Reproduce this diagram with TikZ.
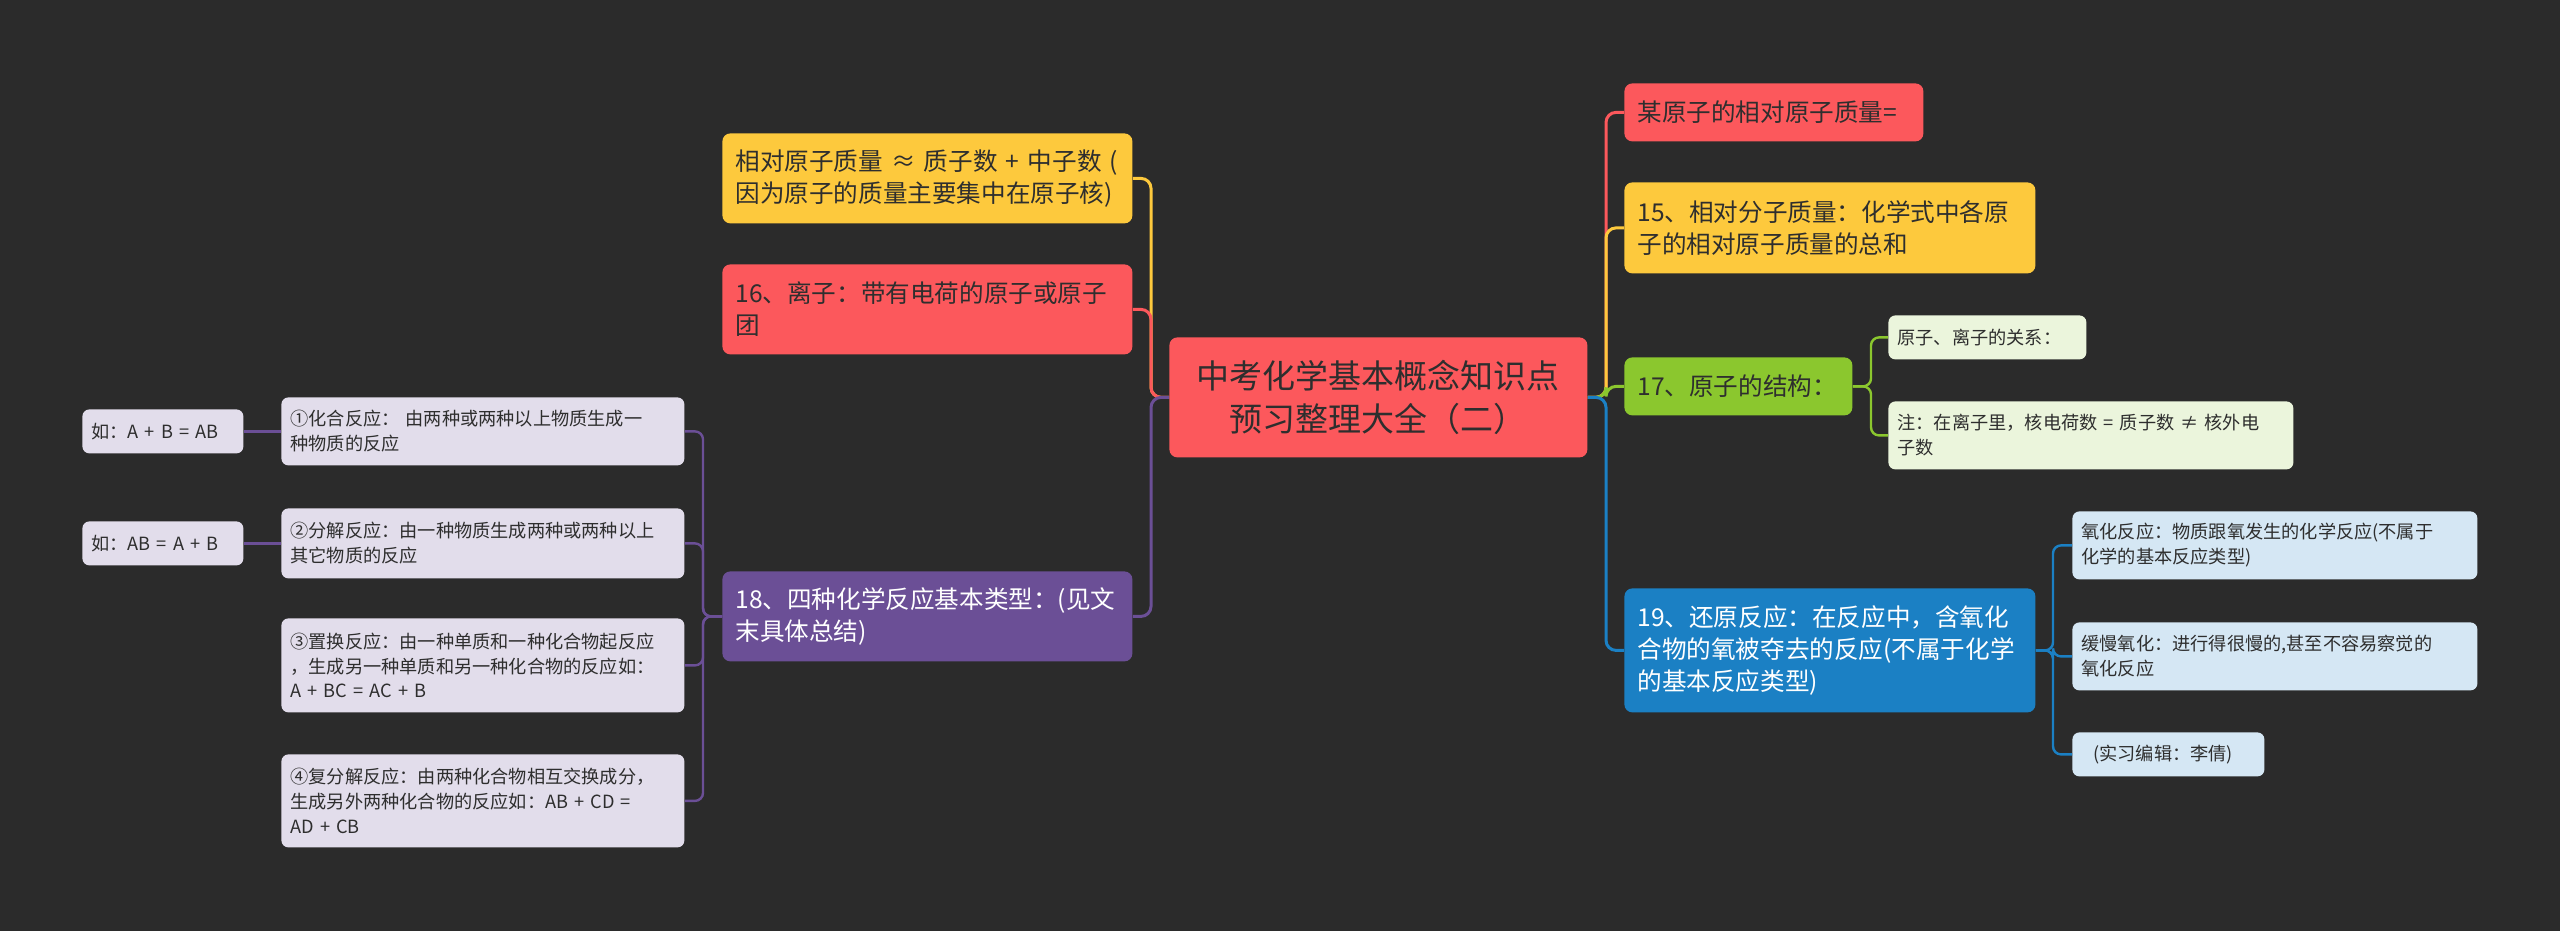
\documentclass[tikz,border=0pt]{standalone}
\usepackage{fontspec}
\setmainfont{Noto Sans CJK SC}
\definecolor{bg}{HTML}{2B2B2B}
\definecolor{cred}{HTML}{FC585C}
\definecolor{cyel}{HTML}{FDC93D}
\definecolor{cgrn}{HTML}{8BC72E}
\definecolor{cblu}{HTML}{1B80C4}
\definecolor{cpur}{HTML}{6B4F96}
\definecolor{lgrn}{HTML}{EBF5DC}
\definecolor{lblu}{HTML}{D5E7F4}
\definecolor{lpur}{HTML}{E2DDEB}
\definecolor{dtxt}{HTML}{2E2E2E}
\newcommand{\mmnode}[8]{%
 \pgfmathsetmacro\mmw{(#4-#2)*0.5}%
 \pgfmathsetmacro\mmh{(#5-#3)*0.5}%
 \pgfmathsetmacro\mmt{(#4-#2)*0.5-#7}%
 \pgfmathsetmacro\mmp{#7*0.5}%
 \node[#6, anchor=north west, minimum width=\mmw pt, minimum height=\mmh pt,
   inner xsep=\mmp pt, text width=\mmt pt] (#1) at (#2,#3) {#8};}
\tikzset{
 mainbox/.style={rounded corners=4pt, inner ysep=1pt, align=center, text=dtxt,
   font=\fontsize{16.5}{21.5}\selectfont},
 topicbox/.style={rounded corners=4pt, inner ysep=1pt, align=left,
   font=\fontsize{12.3}{16}\selectfont},
 leafbox/.style={rounded corners=3.5pt, inner ysep=1pt, align=left, text=dtxt,
   font=\fontsize{9.1}{12.4}\selectfont},
 cn/.style={line width=1.5pt, rounded corners=5pt},
 cnl/.style={line width=1.2pt, rounded corners=4pt},
}
\begin{document}
\begin{tikzpicture}[x=0.5pt,y=-0.5pt]
\fill[bg] (0,0) rectangle (2560,931);
\useasboundingbox (0,0) rectangle (2560,931);
% center
\mmnode{C}{1169}{337}{1587}{457}{mainbox, fill=cred}{10}{中考化学基本概念知识点\\预习整理大全（二）}
% left topics
\mmnode{L1}{722}{133}{1132}{223}{topicbox, fill=cyel, text=dtxt}{13}{\mbox{相对原子质量 ≈ 质子数 + 中子数 (}\\因为原子的质量主要集中在原子核)}
\mmnode{L2}{722}{264}{1132}{354}{topicbox, fill=cred, text=dtxt}{13}{16、离子：带有电荷的原子或原子\\团}
\mmnode{L3}{722}{571}{1132}{661}{topicbox, fill=cpur, text=white}{13}{18、四种化学反应基本类型：(见文\\末具体总结)}
% left leaves
\mmnode{LA}{281}{397}{684}{465}{leafbox, fill=lpur}{9}{\mbox{①化合反应： 由两种或两种以上物质生成一}\\种物质的反应}
\mmnode{LB}{281}{508}{684}{578}{leafbox, fill=lpur}{9}{②分解反应：由一种物质生成两种或两种以上\\其它物质的反应}
\mmnode{LC}{281}{618}{684}{712}{leafbox, fill=lpur}{9}{③置换反应：由一种单质和一种化合物起反应\\，生成另一种单质和另一种化合物的反应如：\\\mbox{A + BC = AC + B}}
\mmnode{LD}{281}{754}{684}{847}{leafbox, fill=lpur}{9}{④复分解反应：由两种化合物相互交换成分，\\\mbox{生成另外两种化合物的反应如：AB + CD =}\\\mbox{AD + CB}}
\mmnode{EA}{82}{409}{243}{453}{leafbox, fill=lpur}{9}{\mbox{如：A + B = AB}}
\mmnode{EB}{82}{521}{243}{565}{leafbox, fill=lpur}{9}{\mbox{如：AB = A + B}}
% right topics
\mmnode{R1}{1624}{83}{1923}{141}{topicbox, fill=cred, text=dtxt}{13}{某原子的相对原子质量=}
\mmnode{R2}{1624}{182}{2035}{273}{topicbox, fill=cyel, text=dtxt}{13}{15、相对分子质量：化学式中各原\\子的相对原子质量的总和}
\mmnode{R3}{1624}{357}{1852}{415}{topicbox, fill=cgrn, text=dtxt}{13}{17、原子的结构：}
\mmnode{R4}{1624}{588}{2035}{712}{topicbox, fill=cblu, text=white}{13}{19、还原反应：在反应中，含氧化\\合物的氧被夺去的反应(不属于化学\\的基本反应类型)}
% right leaves
\mmnode{RA}{1888}{315}{2086}{359}{leafbox, fill=lgrn}{9}{原子、离子的关系：}
\mmnode{RB}{1888}{401}{2293}{469}{leafbox, fill=lgrn}{9}{\mbox{注：在离子里，核电荷数 = 质子数 ≠ 核外电}\\子数}
\mmnode{RC}{2072}{511}{2477}{579}{leafbox, fill=lblu}{9}{氧化反应：物质跟氧发生的化学反应(不属于\\化学的基本反应类型)}
\mmnode{RD}{2072}{622}{2477}{690}{leafbox, fill=lblu}{9}{缓慢氧化：进行得很慢的,甚至不容易察觉的\\氧化反应}
\mmnode{RE}{2072}{732}{2264}{776}{leafbox, fill=lblu}{9}{\hspace*{6pt}(实习编辑：李倩)}
% trunk coordinates
\coordinate (tR) at (1606,0);
\coordinate (tL) at (1151,0);
\coordinate (t3) at (703,0);
\coordinate (t17) at (1871,0);
\coordinate (t19) at (2053,0);
% right connectors
\draw[cn, cred] (C.east) -- (C.east -| tR) |- (R1.west);
\draw[cn, cyel] (C.east) -- (C.east -| tR) |- (R2.west);
\draw[cn, cgrn] (C.east) -- (C.east -| tR) |- (R3.west);
\draw[cn, cblu] (C.east) -- (C.east -| tR) |- (R4.west);
% left connectors
\draw[cn, cyel] (C.west) -- (C.west -| tL) |- (L1.east);
\draw[cn, cred] (C.west) -- (C.west -| tL) |- (L2.east);
\draw[cn, cpur] (C.west) -- (C.west -| tL) |- (L3.east);
% L3 children
\draw[cnl, cpur] (L3.west) -- (L3.west -| t3) |- (LA.east);
\draw[cnl, cpur] (L3.west) -- (L3.west -| t3) |- (LB.east);
\draw[cnl, cpur] (L3.west) -- (L3.west -| t3) |- (LC.east);
\draw[cnl, cpur] (L3.west) -- (L3.west -| t3) |- (LD.east);
\draw[cnl, cpur] (LA.west) -- (EA.east);
\draw[cnl, cpur] (LB.west) -- (EB.east);
% R3 children
\draw[cnl, cgrn] (R3.east) -- (R3.east -| t17) |- (RA.west);
\draw[cnl, cgrn] (R3.east) -- (R3.east -| t17) |- (RB.west);
% R4 children
\draw[cnl, cblu] (R4.east) -- (R4.east -| t19) |- (RC.west);
\draw[cnl, cblu] (R4.east) -- (R4.east -| t19) |- (RD.west);
\draw[cnl, cblu] (R4.east) -- (R4.east -| t19) |- (RE.west);
\end{tikzpicture}
\end{document}
